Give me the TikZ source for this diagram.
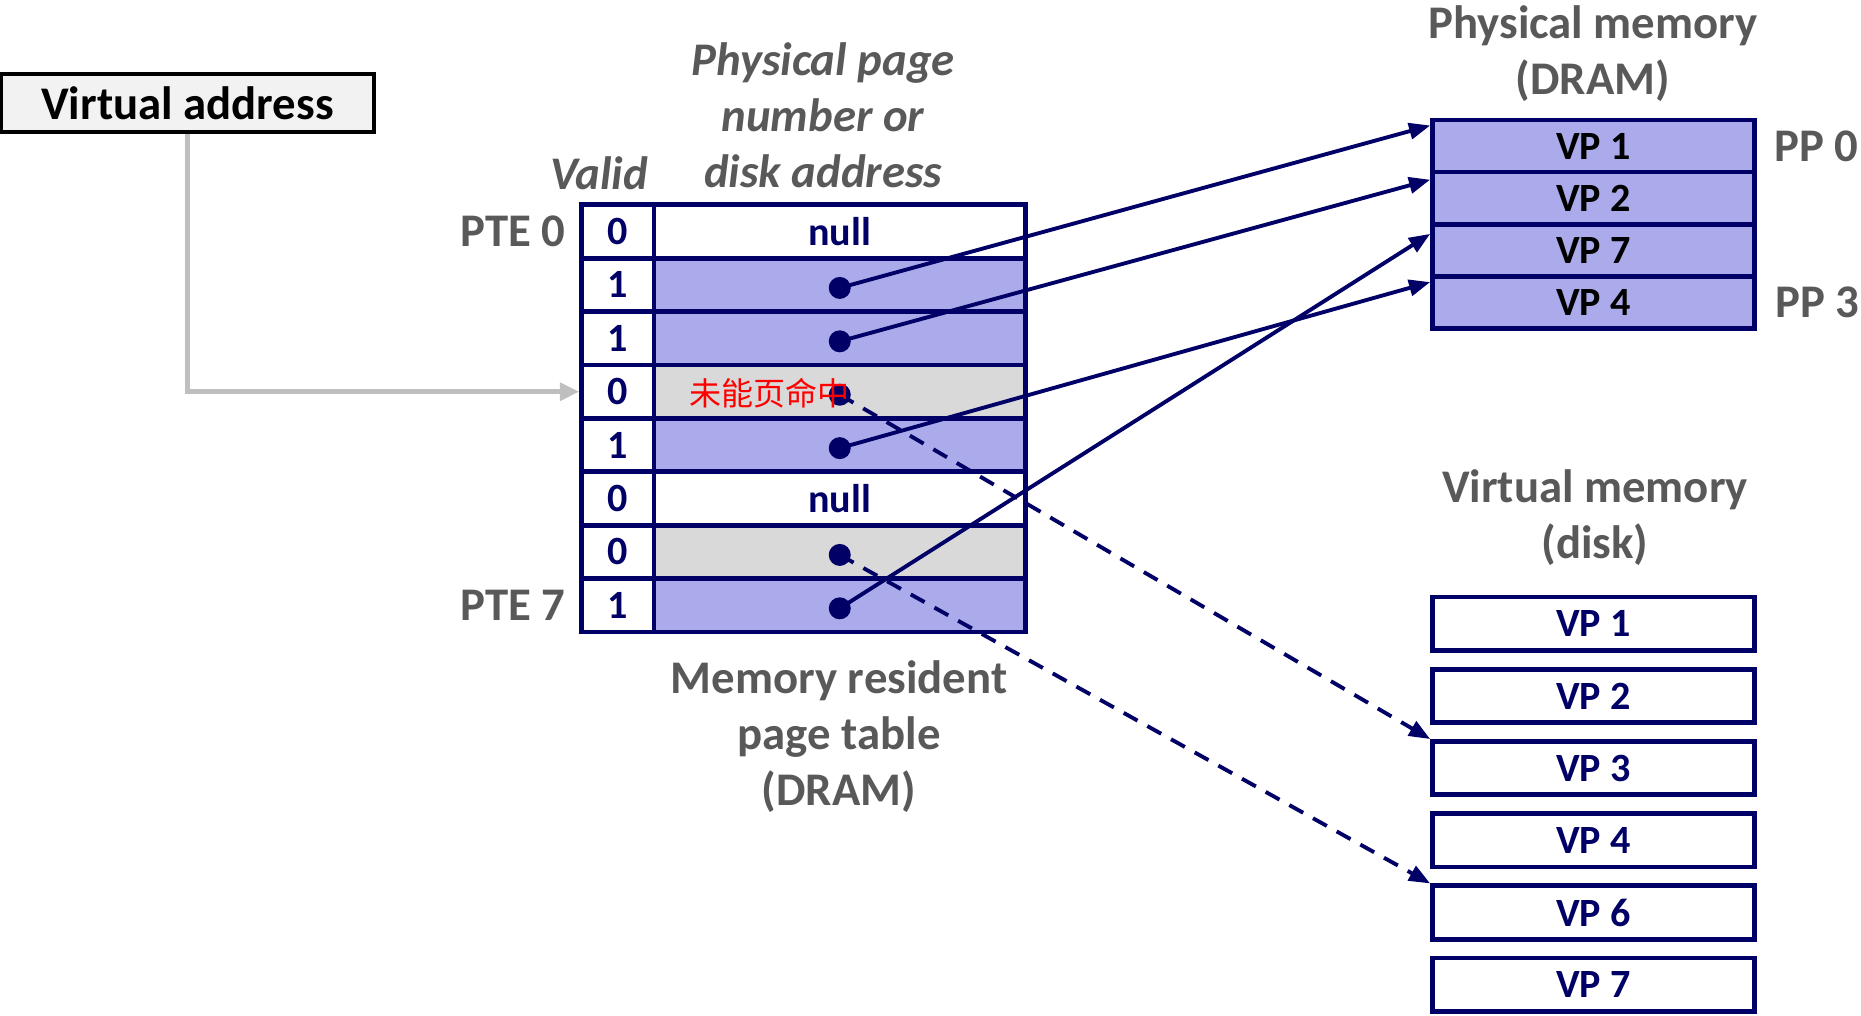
\documentclass[tikz,border=0pt]{standalone}
\usepackage{fontspec}
\setmainfont{Carlito}
\newfontfamily\cjk{Noto Sans CJK SC}
\usepackage{tikz}
\usetikzlibrary{arrows.meta,positioning,calc}
\usepackage{xcolor}

\definecolor{navy}{RGB}{0,0,102}
\definecolor{pteblue}{RGB}{171,171,235}
\definecolor{ptegray}{RGB}{217,217,217}
\definecolor{titlegray}{RGB}{89,89,89}
\definecolor{linegray}{RGB}{191,191,191}
\definecolor{vabg}{RGB}{242,242,242}

\newcommand{\titlesize}{\fontsize{13.3}{15.9}\selectfont}
\newcommand{\cellsize}{\fontsize{11.4}{13}\selectfont}

\tikzset{
  vabox/.style={draw=black, line width=1.1pt, fill=vabg, inner sep=0pt,
                minimum width=3.73cm, minimum height=0.58cm, font=\titlesize\bfseries},
  vcell/.style={draw=navy, line width=1.35pt, fill=white, text=navy, inner sep=0pt,
                minimum width=0.724cm, minimum height=0.534cm, font=\cellsize\bfseries},
  pcell/.style={draw=navy, line width=1.35pt, text=navy, inner sep=0pt,
                minimum width=3.715cm, minimum height=0.534cm, font=\cellsize\bfseries},
  pmcell/.style={draw=navy, line width=1.35pt, fill=pteblue, text=black, inner sep=0pt,
                 minimum width=3.216cm, minimum height=0.522cm, font=\cellsize\bfseries},
  dkcell/.style={draw=navy, line width=1.35pt, fill=white, text=navy, inner sep=0pt,
                 minimum width=3.216cm, minimum height=0.534cm, font=\cellsize\bfseries},
  dot/.style={circle, fill=navy, inner sep=0pt, minimum size=0.22cm},
  title/.style={text=titlegray, inner sep=0pt, align=center, font=\titlesize\bfseries},
  ptr/.style={navy, line width=1.1pt, -{Triangle[length=6pt,width=4.6pt]}},
  diskptr/.style={ptr, dash pattern=on 4.5pt off 3.2pt},
  miss/.style={text=red, inner sep=0pt, font=\cjk\fontsize{9.1}{11}\selectfont}
}

\begin{document}
\begin{tikzpicture}[x=0.01cm, y=-0.01cm]
  \useasboundingbox (0,0) rectangle (1861,1015);

  % virtual address
  \node[vabox] (va) at (187.5,103) {Virtual address};

  % page table
  \foreach \i/\v/\f/\t in {0/0/white/null, 1/1/pteblue/{}, 2/1/pteblue/{}, 3/0/ptegray/{},
                          4/1/pteblue/{}, 5/0/white/null, 6/0/ptegray/{}, 7/1/pteblue/{}} {
    \node[vcell] (v\i) at (617.8, {231.5+53.4*\i}) {\v};
    \node[pcell, fill=\f] (p\i) at (839.75, {231.5+53.4*\i}) {\t};
  }
  \foreach \i in {1,2,3,4,6,7}
    \node[dot] (d\i) at ([yshift=-0.03cm]p\i.center) {};

  \node[title, left=0.13cm of v0] (pte0) {PTE 0};
  \node[title, left=0.13cm of v7] (pte7) {PTE 7};
  \node[title, font=\titlesize\bfseries\itshape] (valid) at (599,173) {Valid};
  \node[title, font=\titlesize\bfseries\itshape] (ppn) at (823,115)
    {Physical page\\number or\\disk address};
  \node[title] (pt) at (839,737) {Memory resident\\page table\\(DRAM)};

  % physical memory
  \node[title] (pmtitle) at (1593,54) {Physical memory\\(DRAM)};
  \foreach \i/\n in {0/1, 1/2, 2/7, 3/4}
    \node[pmcell] (m\i) at (1593.4, {146+52.2*\i}) {VP \n};
  \node[title, right=0.17cm of m0] (pp0) {PP 0};
  \node[title, right=0.18cm of m3] (pp3) {PP 3};

  % virtual memory on disk
  \node[title] (vmtitle) at (1595,518) {Virtual memory\\(disk)};
  \foreach \i/\n in {0/1, 1/2, 2/3, 3/4, 4/6, 5/7}
    \node[dkcell] (k\n) at (1593.4, {623.7+72.2*\i}) {VP \n};

  % virtual address lookup
  \draw[linegray, line width=1.3pt, -{Triangle[length=5.5pt,width=5pt]}]
    (va.south) |- (v3.west);

  % resident pages
  \draw[ptr] (d1.center) -- ($(m0.north west)+(0,8)$);
  \draw[ptr] (d2.center) -- ($(m1.north west)+(0,10)$);
  \draw[ptr] (d7.center) -- ($(m2.north west)+(0,12)$);
  \draw[ptr] (d4.center) -- ($(m3.north west)+(0,8)$);

  % pages on disk
  \draw[diskptr] (d3.center) -- (k3.north west);
  \draw[diskptr] (d6.center) -- (k6.north west);

  \node[miss] (fault) at (769.7,393) {未能页命中};
\end{tikzpicture}
\end{document}
